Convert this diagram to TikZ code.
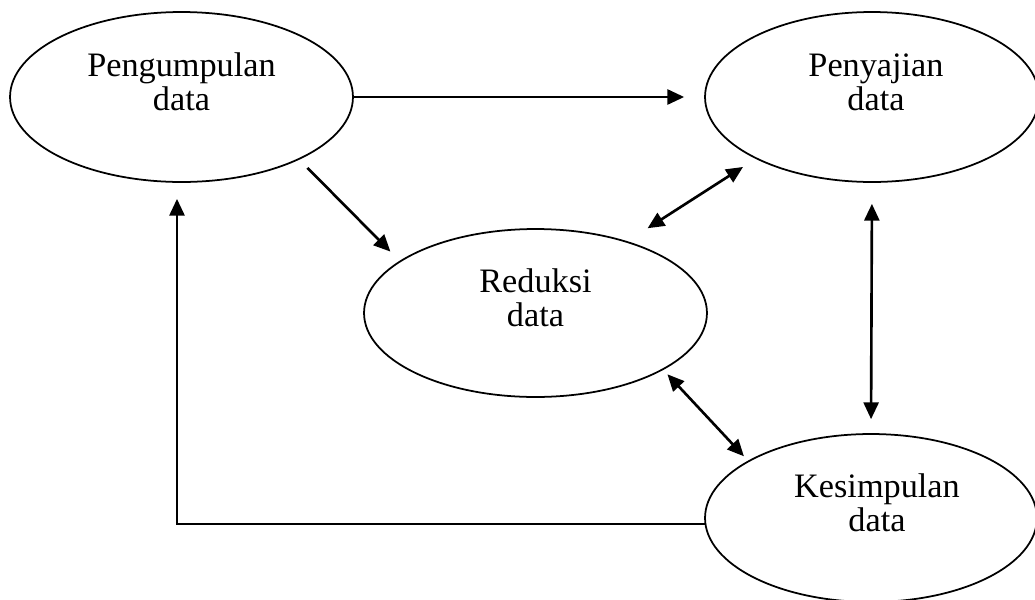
\documentclass[tikz,border=0pt]{standalone}
\usepackage{fontspec}
\setmainfont{Liberation Serif}
\usetikzlibrary{shapes.geometric, arrows.meta}

\begin{document}
\begin{tikzpicture}[x=0.02cm, y=-0.02cm, >={Triangle[length=9.5pt, width=8.5pt]}]
        % Styles
        \tikzset{stage/.style={ellipse, draw=black, line width=1pt, inner sep=0pt, minimum width=6.86cm, minimum height=3.4cm}}
        \tikzset{stagetext/.style={align=center, inner sep=0pt, yshift=0.3cm, font=\fontsize{19.5}{19.5}\selectfont}}
        \tikzset{flow/.style={line width=1.5pt}}

        \useasboundingbox (0,0) rectangle (1035,599);

        % Stages
        \node[stage] (pengumpulan) at (181.5,97) {};
        \node[stage, minimum width=6.68cm] (penyajian) at (872,97) {};
        \node[stage, minimum height=3.36cm] (reduksi) at (535.5,313) {};
        \node[stage, minimum width=6.64cm, minimum height=3.36cm] (kesimpulan) at (871,518) {};

        % Texts
        \node[stagetext] (pengumpulan-text) at (pengumpulan) {Pengumpulan\\data};
        \node[stagetext, xshift=0.08cm] (penyajian-text) at (penyajian) {Penyajian\\data};
        \node[stagetext] (reduksi-text) at (reduksi) {Reduksi\\data};
        \node[stagetext, xshift=0.12cm] (kesimpulan-text) at (kesimpulan) {Kesimpulan\\data};

        % Connections
        \draw[flow, ->, shorten >=0.4cm] (pengumpulan.east) -- (penyajian.west);
        \draw[flow, ->, shorten <=0.23cm, shorten >=0.26cm] (pengumpulan.-28.6) -- (reduksi.159.5);
        \draw[flow, <->, shorten <=0.48cm, shorten >=0.3cm] (reduksi.38) -- (penyajian.208.4);
        \draw[flow, <->, shorten <=0.42cm, shorten >=0.28cm] (penyajian.south) -- (kesimpulan.north);
        \draw[flow, <->, shorten <=0.12cm, shorten >=0.12cm] (reduksi.-24.6) -- (kesimpulan.155.6);
        \draw[flow, ->, shorten >=0.32cm] (kesimpulan.182.4) -| ([xshift=-0.09cm]pengumpulan.south);
    \end{tikzpicture}
\end{document}
